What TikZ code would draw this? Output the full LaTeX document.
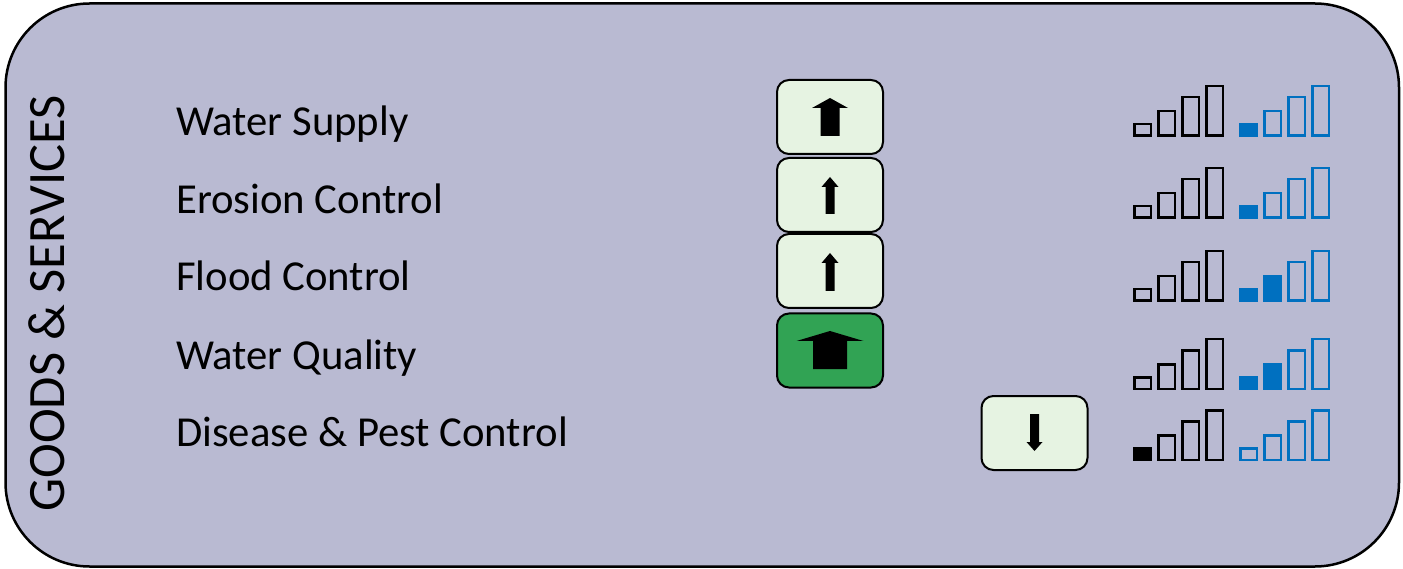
\documentclass[tikz,border=0pt]{standalone}
\usepackage{fontspec}
\setmainfont{Carlito}
\definecolor{panelbg}{HTML}{B9BAD2}
\definecolor{lightgreen}{HTML}{E6F3E2}
\definecolor{darkgreen}{HTML}{31A354}
\definecolor{barblue}{HTML}{0070C0}

\tikzset{
  panel/.style={draw=black, line width=2.5pt, fill=panelbg, rounded corners=84pt},
  lab/.style={anchor=base west, inner sep=0pt, font=\fontsize{42.7}{50}\selectfont},
  title/.style={rotate=90, anchor=base, inner sep=0pt, font=\fontsize{52.5}{60}\selectfont},
  trendbox/.style={draw=black, line width=2pt, fill=lightgreen, rounded corners=12pt,
    minimum width=106pt, minimum height=74pt, inner sep=0pt},
  strongbox/.style={trendbox, fill=darkgreen},
  bar/.style={line width=2.5pt}
}

% block arrow in a box: #1 box, #2 head half-width, #3 shaft half-width,
% #4 tip, #5 head base, #6 shaft end (offsets from the box centre)
\newcommand\blockarrow[6]{%
  \fill[black, shift={(#1.center)}] (0,#4) -- (#2,#5) -- (#3,#5) -- (#3,#6)
    -- (-#3,#6) -- (-#3,#5) -- (-#2,#5) -- cycle;}

% four rising bars: #1 left x, #2 bottom y, #3 colour, #4 how many are filled
\newcommand\levelbars[4]{%
  \foreach \i/\h in {0/14,1/27,2/41,3/52}{%
    \ifnum\i<#4\relax
      \filldraw[bar, draw=#3, fill=#3] ({#1+24*\i+1.25},{#2-1.25}) rectangle ({#1+24*\i+17.75},{#2-\h+1.25});
    \else
      \draw[bar, draw=#3] ({#1+24*\i+1.25},{#2-1.25}) rectangle ({#1+24*\i+17.75},{#2-\h+1.25});
    \fi
  }}

\begin{document}
\begin{tikzpicture}[x=1pt, y=-1pt]
\useasboundingbox (0,0) rectangle (1403,569);

% outer panel
\path[panel] (5.5,3.5) rectangle (1399,566.5);

% side title
\node[title] (title) at (64,303.5) {GOODS \& SERVICES};

% service names
\node[lab] (ws) at (176,136) {Water Supply};
\node[lab] (ec) at (176,213.5) {Erosion Control};
\node[lab] (fc) at (176,291) {Flood Control};
\node[lab] (wq) at (176,369) {Water Quality};
\node[lab] (dp) at (176,446.5) {Disease \& Pest Control};

% trend boxes
\node[trendbox] (b1) at (830,117) {};
\node[trendbox] (b2) at (830,195) {};
\node[trendbox] (b3) at (830,271) {};
\node[strongbox] (b4) at (830,350.5) {};
\node[trendbox] (b5) at (1034.5,433) {};

\blockarrow{b1}{18}{9.5}{-19}{-9}{19}
\blockarrow{b2}{8.5}{4.5}{-18}{-8}{19}
\blockarrow{b3}{8.5}{4.5}{-18}{-8}{20}
\blockarrow{b4}{33.5}{17}{-19.5}{-9.5}{18.5}
\blockarrow{b5}{8}{4.5}{18}{9}{-19}

% level indicators
\levelbars{1133}{137}{black}{0}
\levelbars{1239}{137}{barblue}{1}
\levelbars{1133}{219}{black}{0}
\levelbars{1239}{219}{barblue}{1}
\levelbars{1133}{302}{black}{0}
\levelbars{1239}{302}{barblue}{2}
\levelbars{1133}{390}{black}{0}
\levelbars{1239}{390}{barblue}{2}
\levelbars{1133}{461}{black}{1}
\levelbars{1239}{461}{barblue}{0}
\end{tikzpicture}
\end{document}
